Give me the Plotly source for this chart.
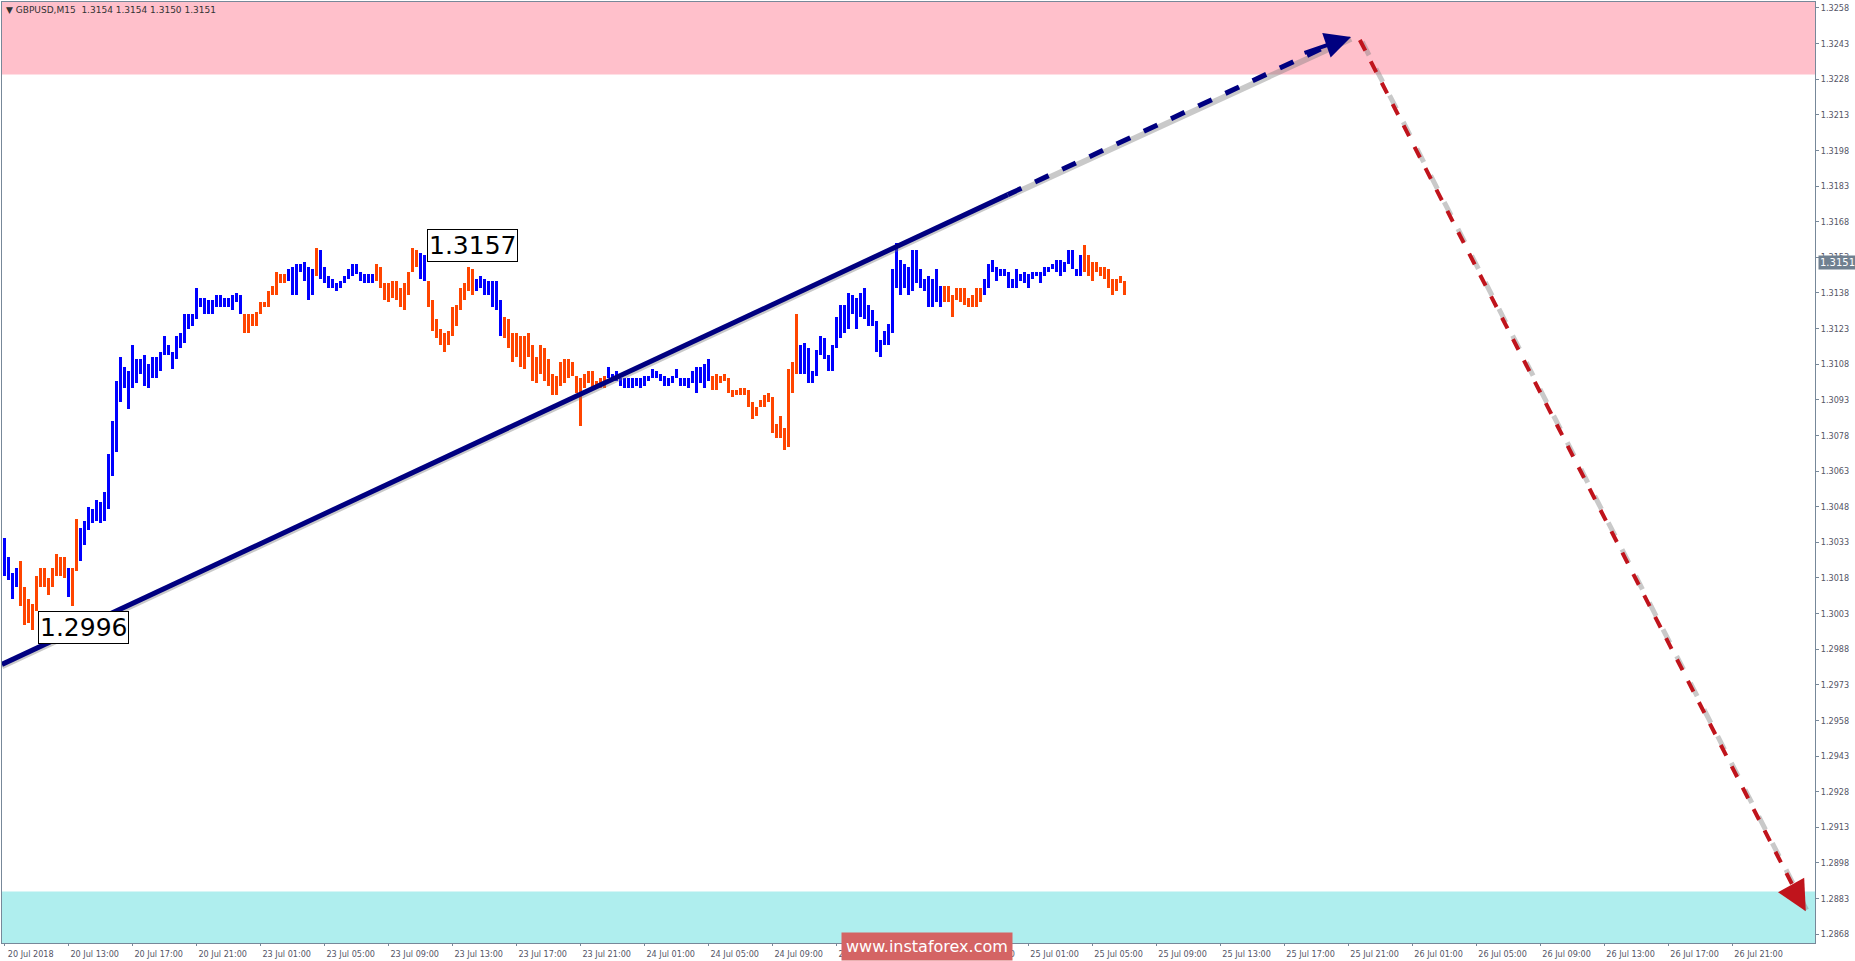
import plotly.graph_objects as go

# ---- data: GBPUSD M15 bars (high, low, direction) ----
highs = [1.3035,1.3027,1.3020,1.3022,1.3025,1.3014,1.3009,1.3007,1.3019,1.3022,
1.3022,1.3018,1.3022,1.3028,1.3027,1.3027,1.3022,1.3022,1.3043,1.3039,
1.3042,1.3048,1.3047,1.3051,1.3050,1.3054,1.3070,1.3084,1.3101,1.3111,
1.3107,1.3105,1.3116,1.3110,1.3110,1.3112,1.3108,1.3111,1.3111,1.3113,
1.3120,1.3116,1.3113,1.3120,1.3121,1.3129,1.3129,1.3129,1.3140,1.3136,
1.3136,1.3135,1.3135,1.3137,1.3137,1.3136,1.3136,1.3137,1.3138,1.3137,
1.3129,1.3129,1.3129,1.3130,1.3134,1.3134,1.3139,1.3141,1.3147,1.3146,
1.3146,1.3148,1.3149,1.3150,1.3150,1.3151,1.3149,1.3148,1.3157,1.3156,
1.3149,1.3145,1.3144,1.3142,1.3143,1.3145,1.3148,1.3150,1.3150,1.3147,
1.3146,1.3146,1.3146,1.3150,1.3149,1.3142,1.3142,1.3143,1.3143,1.3140,
1.3142,1.3147,1.3157,1.3156,1.3155,1.3154,1.3143,1.3135,1.3127,1.3123,
1.3121,1.3122,1.3132,1.3133,1.3140,1.3142,1.3149,1.3148,1.3144,1.3145,
1.3144,1.3143,1.3143,1.3143,1.3135,1.3128,1.3127,1.3121,1.3121,1.3120,
1.3120,1.3121,1.3116,1.3111,1.3116,1.3115,1.3110,1.3104,1.3103,1.3109,
1.3110,1.3110,1.3109,1.3103,1.3102,1.3104,1.3105,1.3105,1.3101,1.3102,
1.3103,1.3107,1.3104,1.3105,1.3102,1.3102,1.3102,1.3102,1.3102,1.3102,
1.3103,1.3103,1.3106,1.3105,1.3104,1.3103,1.3102,1.3103,1.3106,1.3102,
1.3102,1.3102,1.3105,1.3107,1.3107,1.3108,1.3110,1.3103,1.3104,1.3103,
1.3104,1.3102,1.3097,1.3097,1.3098,1.3098,1.3097,1.3092,1.3090,1.3093,
1.3095,1.3096,1.3094,1.3083,1.3086,1.3081,1.3106,1.3109,1.3129,1.3116,
1.3117,1.3115,1.3105,1.3114,1.3120,1.3119,1.3112,1.3116,1.3128,1.3133,
1.3133,1.3138,1.3137,1.3136,1.3138,1.3140,1.3133,1.3131,1.3126,1.3118,
1.3122,1.3125,1.3148,1.3159,1.3152,1.3150,1.3149,1.3156,1.3156,1.3148,
1.3144,1.3145,1.3144,1.3148,1.3141,1.3141,1.3141,1.3137,1.3140,1.3140,
1.3140,1.3136,1.3137,1.3140,1.3140,1.3144,1.3150,1.3152,1.3149,1.3148,
1.3148,1.3147,1.3144,1.3148,1.3146,1.3147,1.3146,1.3147,1.3147,1.3147,
1.3149,1.3149,1.3150,1.3152,1.3152,1.3151,1.3156,1.3156,1.3148,1.3154,
1.3158,1.3154,1.3151,1.3151,1.3149,1.3149,1.3148,1.3144,1.3144,1.3145,
1.3143,1.3143,1.3143,1.3144,1.3152]
lows = [1.3019,1.3017,1.3009,1.3014,1.3006,1.2998,1.2999,1.2996,1.3004,1.3014,
1.3014,1.3011,1.3014,1.3019,1.3019,1.3018,1.3010,1.3006,1.3021,1.3025,
1.3032,1.3038,1.3041,1.3042,1.3041,1.3042,1.3047,1.3061,1.3071,1.3092,
1.3098,1.3089,1.3098,1.3100,1.3104,1.3099,1.3098,1.3102,1.3102,1.3105,
1.3112,1.3112,1.3106,1.3110,1.3115,1.3117,1.3123,1.3124,1.3127,1.3132,
1.3129,1.3129,1.3129,1.3132,1.3132,1.3132,1.3132,1.3131,1.3134,1.3129,
1.3121,1.3121,1.3124,1.3124,1.3129,1.3132,1.3132,1.3137,1.3137,1.3142,
1.3142,1.3143,1.3137,1.3137,1.3147,1.3143,1.3135,1.3137,1.3145,1.3144,
1.3142,1.3140,1.3140,1.3139,1.3140,1.3142,1.3144,1.3145,1.3146,1.3143,
1.3142,1.3142,1.3142,1.3143,1.3140,1.3135,1.3134,1.3136,1.3135,1.3132,
1.3131,1.3137,1.3147,1.3149,1.3144,1.3143,1.3132,1.3122,1.3119,1.3116,
1.3113,1.3116,1.3120,1.3124,1.3131,1.3135,1.3139,1.3137,1.3139,1.3140,
1.3137,1.3137,1.3132,1.3131,1.3120,1.3119,1.3115,1.3109,1.3111,1.3107,
1.3106,1.3111,1.3101,1.3100,1.3104,1.3101,1.3099,1.3095,1.3095,1.3099,
1.3100,1.3102,1.3103,1.3096,1.3082,1.3098,1.3100,1.3098,1.3098,1.3098,
1.3098,1.3102,1.3101,1.3101,1.3099,1.3098,1.3098,1.3098,1.3099,1.3098,
1.3099,1.3101,1.3102,1.3102,1.3101,1.3099,1.3099,1.3100,1.3102,1.3099,
1.3099,1.3098,1.3100,1.3096,1.3100,1.3098,1.3101,1.3097,1.3097,1.3100,
1.3101,1.3096,1.3094,1.3095,1.3095,1.3095,1.3090,1.3085,1.3086,1.3090,
1.3090,1.3092,1.3079,1.3077,1.3077,1.3072,1.3073,1.3096,1.3104,1.3104,
1.3104,1.3100,1.3100,1.3103,1.3112,1.3110,1.3105,1.3105,1.3115,1.3119,
1.3121,1.3123,1.3129,1.3123,1.3128,1.3127,1.3124,1.3124,1.3113,1.3111,
1.3116,1.3116,1.3121,1.3140,1.3137,1.3140,1.3137,1.3139,1.3142,1.3140,
1.3139,1.3132,1.3132,1.3134,1.3132,1.3134,1.3134,1.3128,1.3135,1.3134,
1.3133,1.3132,1.3132,1.3132,1.3134,1.3137,1.3140,1.3147,1.3143,1.3145,
1.3145,1.3140,1.3140,1.3140,1.3143,1.3142,1.3140,1.3144,1.3145,1.3142,
1.3145,1.3147,1.3148,1.3147,1.3145,1.3147,1.3150,1.3148,1.3145,1.3145,
1.3147,1.3145,1.3143,1.3147,1.3145,1.3144,1.3140,1.3137,1.3139,1.3142,
1.3137,1.3140,1.3140,1.3140,1.3142]
dirs = ("uuuudddddddddddduddu" "uuuuuuuuuuuuuuuuuuuu" "uuuuuuuuuuuuuuuuuuuu"
        "ddddddddddduuuuuuudu" "uuuuuuuuuuuuuddddddd" "dddduuddddddddddddu"
        "uuuuuudddddddddddddd" "dddddddddddduuuuuuuu" "uuuuuuuuuuuuuuuuuudd"
        "dddddddddddddddddddd" "uuuuuuuuuuuuuuuuuuuu" "uuuuuuuuuuuuuuuudddd"
        "dddddduuuuuuuuuuuuuu" "uuuuuuuuuuuddddddddddd")
zone_top = [1.3230, 1.32605]      # resistance zone (pink)
zone_bottom = [1.28643, 1.2886]   # support zone (cyan)
trend_k = [-0.7, 250.8, 336.6]    # bar index of trend-line anchors
trend_p = [1.29816, 1.31794, 1.32458]
down_k = [338.8, 450.3]
down_p = [1.32445, 1.28777]
hi_label = (105.7, 1.3158, "1.3157")
lo_label = (8.4, 1.2997, "1.2996")
last_price = 1.3151
tick_labels = ["20 Jul 2018","20 Jul 13:00","20 Jul 17:00","20 Jul 21:00",
 "23 Jul 01:00","23 Jul 05:00","23 Jul 09:00","23 Jul 13:00","23 Jul 17:00","23 Jul 21:00",
 "24 Jul 01:00","24 Jul 05:00","24 Jul 09:00","24 Jul 13:00","24 Jul 17:00","24 Jul 21:00",
 "25 Jul 01:00","25 Jul 05:00","25 Jul 09:00","25 Jul 13:00","25 Jul 17:00","25 Jul 21:00",
 "26 Jul 01:00","26 Jul 05:00","26 Jul 09:00","26 Jul 13:00","26 Jul 17:00","26 Jul 21:00"]
y_ticks = [round(1.3258 - 0.0015*i, 4) for i in range(27)]

n = min(len(highs), len(lows), len(dirs))
xs = list(range(n))
X0, X1 = -0.675, 452.6
Y0, Y1 = 1.28643, 1.32605

fig = go.Figure()
fig.add_shape(type="rect", xref="paper", x0=0, x1=1, y0=zone_top[0], y1=zone_top[1],
              fillcolor="#FFC0CB", line_width=0, layer="below")
fig.add_shape(type="rect", xref="paper", x0=0, x1=1, y0=zone_bottom[0], y1=zone_bottom[1],
              fillcolor="#AFEEEE", line_width=0, layer="below")

for d, col in (("u", "#0000FF"), ("d", "#FF4500")):
    idx = [i for i in range(n) if dirs[i] == d]
    fig.add_trace(go.Bar(x=[xs[i] for i in idx], base=[lows[i] for i in idx],
                         y=[highs[i]-lows[i] for i in idx], width=0.72,
                         marker=dict(color=col, line_width=0), showlegend=False))

# shadows
sh = 0.00008
fig.add_trace(go.Scatter(x=trend_k, y=[p - sh for p in trend_p], mode="lines",
              line=dict(color="rgba(120,120,120,0.4)", width=6), showlegend=False))
fig.add_trace(go.Scatter(x=[k + 0.6 for k in down_k], y=[p - sh for p in down_p], mode="lines",
              line=dict(color="rgba(120,120,120,0.4)", width=5, dash="dash"), showlegend=False))
# trend line solid + dashed
fig.add_trace(go.Scatter(x=trend_k[:2], y=trend_p[:2], mode="lines",
              line=dict(color="#000080", width=5), showlegend=False))
fig.add_trace(go.Scatter(x=[trend_k[1], trend_k[2]-4], y=[trend_p[1], trend_p[2]-0.00023], mode="lines",
              line=dict(color="#000080", width=5, dash="dash"), showlegend=False))
fig.add_trace(go.Scatter(x=[down_k[0], down_k[1]-1.5], y=[down_p[0], down_p[1]+0.0005], mode="lines",
              line=dict(color="#C0141C", width=4, dash="dash"), showlegend=False))
# arrow heads
fig.add_annotation(x=trend_k[2], y=trend_p[2], ax=trend_k[2]-12, ay=trend_p[2]-0.00069,
                   xref="x", yref="y", axref="x", ayref="y", text="", showarrow=True,
                   arrowhead=2, arrowsize=1.3, arrowwidth=4, arrowcolor="#000080")
fig.add_annotation(x=down_k[1], y=down_p[1], ax=down_k[1]-3, ay=down_p[1]+0.0009,
                   xref="x", yref="y", axref="x", ayref="y", text="", showarrow=True,
                   arrowhead=2, arrowsize=1.5, arrowwidth=4, arrowcolor="#C0141C")

for (k, p, t) in (hi_label, lo_label):
    fig.add_annotation(x=k, y=p, text=t, showarrow=False, xanchor="left",
                       font=dict(family="DejaVu Sans", size=25, color="black"),
                       bgcolor="white", bordercolor="black", borderwidth=1, borderpad=1)

fig.add_annotation(x=1, xref="paper", y=last_price, text=f"{last_price:.4f}",
                   showarrow=False, xanchor="left", xshift=3,
                   font=dict(family="DejaVu Sans", size=10, color="white"),
                   bgcolor="#708090", borderpad=1)
fig.add_annotation(x=0, xref="paper", y=1, yref="paper", xanchor="left", yanchor="top",
                   text="▼ GBPUSD,M15  1.3154 1.3154 1.3150 1.3151", showarrow=False,
                   font=dict(family="DejaVu Sans", size=9, color="#333"), xshift=2, yshift=-1)
fig.add_annotation(x=0.51, xref="paper", y=0, yref="paper", xanchor="center", yanchor="middle",
                   text="www.instaforex.com", showarrow=False, yshift=-3,
                   font=dict(family="DejaVu Sans", size=16, color="white"),
                   bgcolor="#D46464", borderpad=4)

fig.update_layout(
    width=1855, height=961, margin=dict(l=2, r=40, t=2, b=18),
    paper_bgcolor="white", plot_bgcolor="white", barmode="overlay", bargap=0,
    xaxis=dict(range=[X0, X1], tickvals=[16*i for i in range(len(tick_labels))],
               ticktext=tick_labels, ticks="outside", ticklen=2, tickcolor="#778899",
               ticklabelshift=26, ticklabelstandoff=0, showgrid=False, zeroline=False, showline=True,
               linecolor="#778899", mirror=True,
               tickfont=dict(family="DejaVu Sans Condensed", size=9, color="#556")),
    yaxis=dict(range=[Y0, Y1], side="right", tickvals=y_ticks, tickformat=".4f",
               ticks="outside", ticklen=3, tickcolor="#778899", showgrid=False,
               zeroline=False, showline=True, linecolor="#778899", mirror=True,
               tickfont=dict(family="DejaVu Sans Condensed", size=9, color="#556")),
)
fig.write_html("out.html", config={"displayModeBar": False},
               post_script="document.body.style.margin='0';document.body.style.overflow='hidden';")
